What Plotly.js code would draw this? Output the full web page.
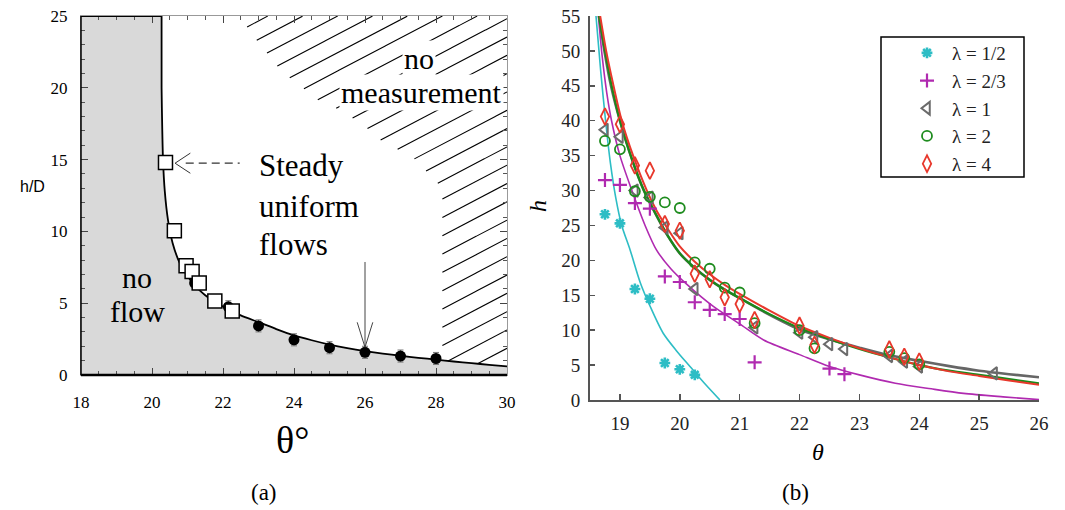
<!DOCTYPE html>
<html><head><meta charset="utf-8">
<script src="https://cdn.plot.ly/plotly-3.0.1.min.js"></script>
<style>html,body{margin:0;padding:0;background:#fff}#chart{width:1065px;height:510px}</style>
</head><body><div id="chart"></div>
<script>
// ---------- panel (a) data ----------
const aSquareTheta = [20.38, 20.63, 20.96, 21.13, 21.33, 21.77, 22.26];
const aSquareH     = [14.8, 10.05, 7.6, 7.2, 6.4, 5.15, 4.45];
const aCircleTheta = [21.2, 22.15, 23.0, 24.0, 25.0, 26.0, 27.0, 28.0];
const aCircleH     = [6.4, 4.75, 3.42, 2.45, 1.9, 1.58, 1.32, 1.15];
const aFitTheta = [20.27,20.27,20.29,20.31,20.36,20.45,20.58,20.78,21.0,21.2,21.5,21.8,22.2,22.5,23,23.5,24,24.5,25,25.5,26,26.5,27,27.5,28,28.5,29,29.5,30];
const aFitH     = [25,20,17,15,12.8,10.8,9.2,7.8,6.9,6.25,5.55,5.05,4.5,4.15,3.68,3.2,2.76,2.42,2.12,1.87,1.66,1.49,1.34,1.2,1.07,0.94,0.82,0.71,0.6];
// left edge of the hatched "no measurement" region
const hatchEdgeH     = [25, 23.6, 21.1, 20.2, 19.3, 18.5, 17.8, 17.2, 16.0, 15.4, 14.4, 13.0, 0];
const hatchEdgeTheta = [22.45, 22.85, 23.65, 24.15, 24.55, 25.25, 25.7, 26.05, 26.6, 27.26, 27.63, 28.18, 28.18];

// ---------- panel (b) data ----------
const seriesNames = ['λ = 1/2', 'λ = 2/3', 'λ = 1', 'λ = 2', 'λ = 4'];
const bTheta_half = [18.75,19,19.25,19.5,19.75,20,20.25];
const bH_half     = [26.6,25.3,15.9,14.5,5.3,4.4,3.6];
const bTheta_23 = [18.75,19,19.25,19.5,19.75,20,20.25,20.5,20.75,21,21.25,22.5,22.75];
const bH_23     = [31.5,30.8,28.2,27.4,17.7,16.9,14.0,12.9,12.3,11.6,5.4,4.5,3.7];
const bTheta_1 = [18.75,19,19.25,19.5,19.75,20,20.25,21.25,22,22.25,22.5,22.75,23.5,23.75,24,25.25];
const bH_1     = [38.7,37.7,30.0,29.0,24.7,23.9,15.9,10.4,9.65,9.0,8.0,7.3,6.3,5.5,4.8,3.8];
const bTheta_2 = [18.75,19,19.25,19.5,19.75,20,20.25,20.5,20.75,21,21.25,22,22.25,23.5,23.75,24];
const bH_2     = [37.1,35.9,29.9,29.1,28.3,27.5,19.7,18.8,16.1,15.4,11.0,10.0,7.4,6.9,6.0,5.1];
const bTheta_4 = [18.75,19,19.25,19.5,19.75,20,20.25,20.5,20.75,21,21.25,22,22.25,23.5,23.75,24];
const bH_4     = [40.6,39.5,33.6,32.85,25.2,24.25,18.1,17.3,14.7,13.75,11.45,10.65,7.9,7.25,6.2,5.5];

const fitTheta_half = [18.6,18.68,18.76,18.84,18.93,19.03,19.17,19.34,19.5,19.72,19.95,20.17,20.4,20.67];
const fitH_half     = [55,47,40,34,29,25,21.5,16.8,13.5,9.6,7,4.8,2.5,0];
const fitTheta_23 = [18.64,18.7,18.78,18.86,19.0,19.2,19.42,19.61,19.85,20.1,20.56,21.0,21.4,22.0,22.5,23.0,23.6,24.2,24.74,25.4,26.0];
const fitH_23     = [55,49.5,44,40,35,30,25,21.5,18.8,16.7,13.4,10.9,8.6,6.5,4.8,3.6,2.4,1.6,0.95,0.45,0.05];
const fitTheta_big = [18.65,18.75,18.85,19,19.2,19.4,19.6,19.8,20,20.25,20.5,20.75,21,21.5,22,22.5,23,23.5,24,24.5,25,25.5,26];
const fitH_1 = [55,49.5,45,40,34.5,30,26.6,23.5,21.0,18.9,17.2,15.8,14.6,12.2,10.1,8.7,7.5,6.4,5.6,4.85,4.2,3.7,3.25];
const fitH_2 = [55,50,45.5,40,34.5,30,26.6,23.5,21.0,18.9,17.2,15.8,14.6,12.3,10.3,8.7,7.3,6.1,5.0,4.2,3.6,3.0,2.4];
const fitTheta_4 = [18.67,18.77,18.88,19.03,19.22,19.45,19.62,19.8,20,20.25,20.5,20.75,21,21.5,22,22.5,23,23.5,24,24.5,25,25.5,26];
const fitH_4 = [55,50,45.5,40,35,30,27,24.5,22.0,19.8,18.0,16.5,15.2,12.8,10.6,8.9,7.4,6.1,5.0,4.1,3.45,2.8,2.2];

// ---------- helpers ----------
function interp(xs, ys, x) {
  const asc = xs[xs.length-1] >= xs[0];
  for (let i = 0; i < xs.length-1; i++) {
    const a = xs[i], b = xs[i+1];
    if ((asc && x >= a && x <= b) || (!asc && x <= a && x >= b)) {
      if (b === a) return ys[i];
      return ys[i] + (ys[i+1]-ys[i])*(x-a)/(b-a);
    }
  }
  return asc ? (x < xs[0] ? ys[0] : ys[ys.length-1]) : (x > xs[0] ? ys[0] : ys[ys.length-1]);
}
// hatch lines for the no-measurement region (decoration, clipped to region)
const hatchX = [], hatchY = [];
(function(){
  const slope = 1.297, gap = 1.275, phase = 0.585;
  for (let k = 0; k < 30; k++) {
    const c = phase + k*gap;
    let open = false;
    for (let t = 22.3; t <= 30.0001; t += 0.01) {
      const h = slope*(t-30) + c;
      const inside = h <= 25 && h >= 0 && h >= interp(aFitTheta.slice(4), aFitH.slice(4), t) && t >= interp(hatchEdgeH, hatchEdgeTheta, h);
      if (inside) { hatchX.push(t); hatchY.push(h); open = true; }
      else if (open) { hatchX.push(null); hatchY.push(null); open = false; }
    }
    if (open) { hatchX.push(null); hatchY.push(null); }
  }
})();

const serif = 'Liberation Serif';
const traces = [];
// gray "no flow" area
traces.push({x:[18].concat(aFitTheta, [30, 18]), y:[25].concat(aFitH, [0, 0]), type:'scatter', mode:'lines',
  fill:'toself', fillcolor:'#d9d9d9', line:{width:0, color:'rgba(0,0,0,0)'}, hoverinfo:'skip', showlegend:false, xaxis:'x', yaxis:'y'});
traces.push({x:hatchX, y:hatchY, type:'scatter', mode:'lines', line:{color:'#000', width:1.1},
  connectgaps:false, hoverinfo:'skip', showlegend:false, xaxis:'x', yaxis:'y'});
traces.push({x:aFitTheta, y:aFitH, type:'scatter', mode:'lines', line:{color:'#000', width:1.8, shape:'spline', smoothing:0.6},
  showlegend:false, xaxis:'x', yaxis:'y'});
traces.push({x:aCircleTheta, y:aCircleH, type:'scatter', mode:'markers',
  marker:{symbol:'circle', size:11, color:'#000'},
  error_y:{type:'constant', value:0.42, color:'#777', thickness:1, width:3},
  showlegend:false, xaxis:'x', yaxis:'y'});
traces.push({x:aSquareTheta, y:aSquareH, type:'scatter', mode:'markers',
  marker:{symbol:'square', size:14, color:'#fff', line:{color:'#000', width:1.5}},
  error_x:{type:'constant', value:0.18, color:'#888', thickness:1, width:3},
  showlegend:false, xaxis:'x', yaxis:'y'});

// panel (b) fits
const fitStyle = [
  [fitTheta_half, fitH_half, '#2dbdc5', 1.6],
  [fitTheta_23, fitH_23, '#b02ab0', 1.6],
  [fitTheta_big, fitH_1, '#666666', 2.6],
  [fitTheta_big, fitH_2, '#1a8a1a', 2.2],
  [fitTheta_4, fitH_4, '#e8382c', 2.0]
];
fitStyle.forEach(f => traces.push({x:f[0], y:f[1], type:'scatter', mode:'lines',
  line:{color:f[2], width:f[3], shape:'spline', smoothing:0.8}, showlegend:false, xaxis:'x2', yaxis:'y2', cliponaxis:true}));
// panel (b) markers
const markerSets = [
  [bTheta_half, bH_half, 'asterisk-open', 9, '#2dbdc5', 2.6],
  [bTheta_23, bH_23, 'cross-thin-open', 10, '#b02ab0', 2.2],
  [bTheta_1, bH_1, 'triangle-left-open', 11, '#6b6b6b', 2.0],
  [bTheta_2, bH_2, 'circle-open', 10, '#1e8c1e', 1.8],
  [bTheta_4, bH_4, 'diamond-tall-open', 12, '#e8382c', 1.8]
];
markerSets.forEach((m, i) => traces.push({x:m[0], y:m[1], type:'scatter', mode:'markers', name:seriesNames[i],
  marker:{symbol:m[2], size:m[3], color:m[4], line:{color:m[4], width:m[5]}}, xaxis:'x2', yaxis:'y2'}));

const W = 1065, H = 510;
const px = v => v / W, py = v => 1 - v / H;
function txt(text, x, y, size, opts) {
  return Object.assign({text:text, x:px(x), y:py(y), xref:'paper', yref:'paper', showarrow:false,
    font:{family:serif, size:size, color:'#000'}, xanchor:'center', yanchor:'middle'}, opts||{});
}

const layout = {
  width:W, height:H, margin:{l:0, r:0, t:0, b:0}, paper_bgcolor:'#fff', plot_bgcolor:'rgba(0,0,0,0)',
  font:{family:serif},
  showlegend:true,
  xaxis:{domain:[px(81), px(507)], range:[18,30], anchor:'y', tick0:18, dtick:2, ticks:'inside', ticklen:7, tickwidth:1,
    tickcolor:'#444', showline:true, linecolor:'#999', linewidth:1, mirror:'ticks', showgrid:false, zeroline:false,
    minor:{dtick:0.5, ticks:'inside', ticklen:4, tickcolor:'#555', showgrid:false},
    tickfont:{family:serif, size:17, color:'#000'}, ticklabelstandoff:12},
  yaxis:{domain:[1-375/H, 1-16/H], range:[0,25], anchor:'x', tick0:0, dtick:5, ticks:'inside', ticklen:7, tickwidth:1,
    tickcolor:'#444', showline:true, linecolor:'#999', linewidth:1, mirror:'ticks', showgrid:false, zeroline:false,
    minor:{dtick:1, ticks:'inside', ticklen:4, tickcolor:'#555', showgrid:false},
    tickfont:{family:serif, size:17, color:'#000'}, ticklabelstandoff:9},
  xaxis2:{domain:[px(590), px(1039)], range:[18.5,26], anchor:'y2', tick0:19, dtick:1, ticks:'inside', ticklen:6, tickwidth:1.5,
    tickcolor:'#555', showline:true, linecolor:'#555', linewidth:2, showgrid:false, zeroline:false,
    tickfont:{family:serif, size:19, color:'#222'}, ticklabelstandoff:5},
  yaxis2:{domain:[1-400/H, 1-16/H], range:[0,55], anchor:'x2', tick0:0, dtick:5, ticks:'inside', ticklen:5, tickwidth:1.5,
    tickcolor:'#555', showline:true, linecolor:'#555', linewidth:2, showgrid:false, zeroline:false,
    tickfont:{family:serif, size:19, color:'#222'}, ticklabelstandoff:4},
  legend:{x:px(902), y:py(34), xanchor:'left', yanchor:'top', bgcolor:'rgba(0,0,0,0)', borderwidth:0,
    font:{family:serif, size:19, color:'#222'}, itemwidth:40, tracegroupgap:0},
  shapes:[
    {type:'line', xref:'x domain', yref:'y domain', x0:0, x1:1, y0:0, y1:0, line:{color:'#000', width:2.5}},
    {type:'line', xref:'x domain', yref:'y domain', x0:0, x1:0, y0:0, y1:1, line:{color:'#000', width:1.5}},
    {type:'line', xref:'x', yref:'y', x0:18, x1:20.27, y0:25, y1:25, line:{color:'#000', width:2}},
    {type:'line', xref:'x', yref:'y', x0:20.95, x1:22.47, y0:14.75, y1:14.75, line:{color:'#333', width:1.2, dash:'8px,5px'}},
    {type:'path', xref:'x', yref:'y', path:'M 21.08,15.45 L 20.65,14.75 L 21.08,14.05', line:{color:'#333', width:1}},
    {type:'line', xref:'x', yref:'y', x0:26, x1:26, y0:7.87, y1:1.95, line:{color:'#444', width:1}},
    {type:'path', xref:'x', yref:'y', path:'M 25.78,3.67 L 26,1.93 L 26.22,3.67', line:{color:'#444', width:1}},
    {type:'rect', xref:'paper', yref:'paper', x0:px(881), x1:px(1024), y0:py(37), y1:py(177), line:{color:'#000', width:1.5}}
  ],
  annotations:[
    txt('no', 137, 277, 30),
    txt('flow', 137, 311, 30),
    txt('Steady', 257, 166, 31, {xanchor:'left'}),
    txt('uniform', 257, 206, 31, {xanchor:'left'}),
    txt('flows', 257, 244, 31, {xanchor:'left'}),
    txt('no', 419, 58, 30, {bgcolor:'#fff'}),
    txt('measurement', 421, 92, 30, {bgcolor:'#fff'}),
    txt('h/D', 32, 186, 16, {font:{family:'Liberation Sans', size:16, color:'#000'}}),
    txt('θ°', 292, 440, 38),
    txt('(a)', 264, 492, 23),
    txt('(b)', 795, 492, 23),
    txt('<i>θ</i>', 818, 452, 24),
    txt('<i>h</i>', 538, 206, 24, {textangle:-90})
  ]
};

Plotly.newPlot('chart', traces, layout, {displayModeBar:false, staticPlot:true});
</script>
</body></html>
